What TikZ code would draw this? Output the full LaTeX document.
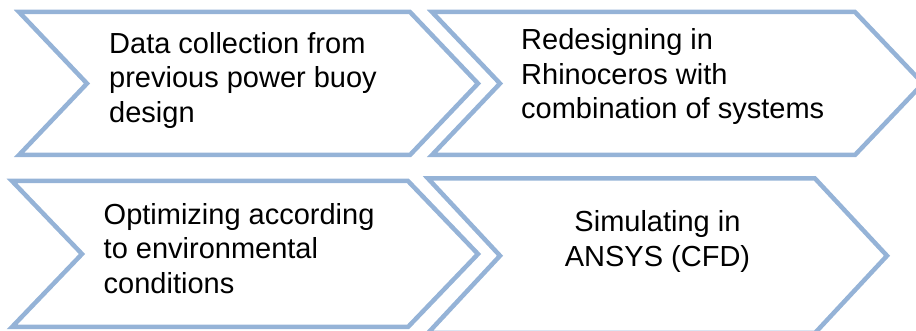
\documentclass[tikz,border=0pt]{standalone}
\usepackage{fontspec}
\setmainfont{Liberation Sans}
\usepackage{tikz}
\definecolor{chevblue}{HTML}{95B3D7}

\begin{document}
\begin{tikzpicture}[x=1pt,y=1pt,
        chev/.style={draw=chevblue,line width=4.5pt,line join=miter},
        steptext/.style={inner sep=0pt,font=\fontsize{29}{34.5}\selectfont}]
            \useasboundingbox (0,0) rectangle (916,331);

            % base anchor sits on the last line
            \draw[chev] (19,319) -- (410,319) -- (478,247.5) -- (410,176) -- (19,176) -- (87,247.5) -- cycle;
            \node[steptext,align=left,anchor=base west] (data) at (109,208.5) {Data collection from\\previous power buoy\\design};

            \draw[chev] (432,319) -- (855,319) -- (923,247.5) -- (855,176) -- (432,176) -- (500,247.5) -- cycle;
            \node[steptext,align=left,anchor=base west] (redesign) at (521,212) {Redesigning in\\Rhinoceros with\\combination of systems};

            \draw[chev] (12,150) -- (408,150) -- (478,77) -- (408,4) -- (12,4) -- (82,77) -- cycle;
            \node[steptext,align=left,anchor=base west] (optimize) at (103.5,37.5) {Optimizing according\\to environmental\\conditions};

            \draw[chev] (428,152.5) -- (815,152.5) -- (887,75.25) -- (815,-2) -- (428,-2) -- (500,75.25) -- cycle; %bottom cut off
            \node[steptext,align=center,anchor=base] (simulate) at (657.5,64.5) {Simulating in\\ANSYS (CFD)};
\end{tikzpicture}
\end{document}
